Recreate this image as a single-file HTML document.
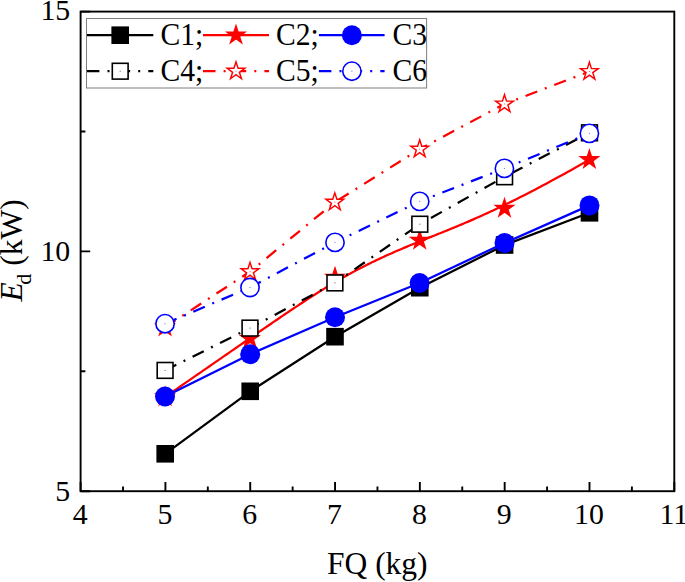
<!DOCTYPE html>
<html><head><meta charset="utf-8"><title>chart</title>
<style>html,body{margin:0;padding:0;background:#fff}body{width:685px;height:582px;overflow:hidden;font-family:"Liberation Serif",serif}</style>
</head><body>
<svg width="685" height="582" viewBox="0 0 685 582" style="display:block">
<rect width="685" height="582" fill="#fff"/>
<path d="M165.20 453.80 L250.20 391.30 L335.00 336.70 L419.80 287.70 L504.60 245.00 L589.50 212.80" fill="none" stroke="#000000" stroke-width="2.25" stroke-linejoin="round"/>
<rect x="156.40" y="445.00" width="17.6" height="17.6" fill="#000000"/>
<rect x="241.40" y="382.50" width="17.6" height="17.6" fill="#000000"/>
<rect x="326.20" y="327.90" width="17.6" height="17.6" fill="#000000"/>
<rect x="411.00" y="278.90" width="17.6" height="17.6" fill="#000000"/>
<rect x="495.80" y="236.20" width="17.6" height="17.6" fill="#000000"/>
<rect x="580.70" y="204.00" width="17.6" height="17.6" fill="#000000"/>
<path d="M165.10 396.90 L168.28 394.71 L171.41 392.55 L174.51 390.42 L177.57 388.31 L180.59 386.23 L183.58 384.17 L186.52 382.14 L189.43 380.13 L192.30 378.15 L195.14 376.19 L197.94 374.25 L200.70 372.34 L203.43 370.45 L206.12 368.59 L208.78 366.74 L211.41 364.93 L214.00 363.13 L216.56 361.36 L219.09 359.61 L221.58 357.88 L224.05 356.17 L226.48 354.49 L228.88 352.82 L231.25 351.18 L233.59 349.56 L235.90 347.96 L238.18 346.38 L240.44 344.82 L242.66 343.28 L244.86 341.76 L247.03 340.26 L249.17 338.77 L251.28 337.31 L253.37 335.87 L255.44 334.44 L257.47 333.04 L259.49 331.65 L261.48 330.28 L263.44 328.93 L265.38 327.60 L267.30 326.28 L269.19 324.98 L271.06 323.70 L272.91 322.43 L274.74 321.19 L276.55 319.95 L278.33 318.74 L280.10 317.54 L281.84 316.35 L283.57 315.18 L285.27 314.03 L286.96 312.89 L288.63 311.76 L290.28 310.65 L291.92 309.56 L293.53 308.48 L295.13 307.41 L296.72 306.36 L298.29 305.32 L299.84 304.29 L301.38 303.27 L302.90 302.27 L304.41 301.28 L305.91 300.31 L307.39 299.34 L308.86 298.39 L310.31 297.45 L311.76 296.52 L313.19 295.60 L314.61 294.70 L316.03 293.80 L317.43 292.91 L318.82 292.04 L320.20 291.17 L321.57 290.32 L322.93 289.47 L324.29 288.64 L325.64 287.81 L326.98 286.99 L328.31 286.18 L329.64 285.38 L330.96 284.59 L332.27 283.80 L333.58 283.03 L334.88 282.26 L336.17 281.50 L337.46 280.75 L338.75 280.01 L340.03 279.27 L341.30 278.54 L342.57 277.82 L343.83 277.10 L345.09 276.40 L346.35 275.70 L347.60 275.00 L348.84 274.32 L350.08 273.64 L351.32 272.96 L352.56 272.29 L353.79 271.63 L355.02 270.98 L356.24 270.33 L357.46 269.68 L358.68 269.04 L359.90 268.41 L361.11 267.78 L362.32 267.16 L363.53 266.54 L364.74 265.93 L365.95 265.32 L367.15 264.72 L368.35 264.12 L369.55 263.53 L370.76 262.94 L371.95 262.35 L373.15 261.77 L374.35 261.19 L375.55 260.62 L376.75 260.05 L377.94 259.48 L379.14 258.92 L380.34 258.36 L381.53 257.80 L382.73 257.25 L383.93 256.69 L385.13 256.15 L386.33 255.60 L387.53 255.06 L388.74 254.52 L389.94 253.98 L391.15 253.44 L392.36 252.91 L393.57 252.37 L394.78 251.84 L396.00 251.31 L397.22 250.78 L398.44 250.26 L399.66 249.73 L400.89 249.21 L402.12 248.68 L403.35 248.16 L404.59 247.64 L405.83 247.11 L407.08 246.59 L408.33 246.07 L409.58 245.55 L410.84 245.03 L412.10 244.51 L413.37 243.99 L414.64 243.46 L415.92 242.94 L417.20 242.42 L418.49 241.90 L419.78 241.37 L421.08 240.84 L422.39 240.32 L423.70 239.79 L425.02 239.26 L426.34 238.73 L427.67 238.19 L429.01 237.66 L430.35 237.12 L431.71 236.58 L433.07 236.04 L434.44 235.49 L435.82 234.94 L437.21 234.39 L438.61 233.83 L440.02 233.26 L441.44 232.69 L442.87 232.12 L444.31 231.54 L445.76 230.95 L447.23 230.35 L448.71 229.75 L450.20 229.14 L451.71 228.53 L453.23 227.90 L454.77 227.27 L456.32 226.63 L457.88 225.97 L459.46 225.31 L461.06 224.64 L462.68 223.96 L464.31 223.27 L465.96 222.56 L467.62 221.85 L469.31 221.12 L471.01 220.38 L472.74 219.63 L474.48 218.86 L476.24 218.08 L478.03 217.29 L479.83 216.49 L481.65 215.66 L483.50 214.83 L485.37 213.98 L487.26 213.11 L489.18 212.23 L491.11 211.33 L493.08 210.42 L495.06 209.48 L497.07 208.53 L499.11 207.57 L501.17 206.58 L503.26 205.58 L505.37 204.56 L507.51 203.51 L509.68 202.45 L511.87 201.37 L514.09 200.27 L516.35 199.15 L518.63 198.00 L520.93 196.84 L523.27 195.65 L525.64 194.45 L528.04 193.21 L530.47 191.96 L532.93 190.68 L535.43 189.38 L537.95 188.06 L540.51 186.71 L543.10 185.34 L545.73 183.94 L548.39 182.51 L551.08 181.06 L553.81 179.59 L556.57 178.08 L559.37 176.55 L562.20 175.00 L565.07 173.41 L567.98 171.80 L570.93 170.16 L573.91 168.49 L576.93 166.79 L579.99 165.06 L583.09 163.31 L586.22 161.52 L589.40 159.70" fill="none" stroke="#ff0000" stroke-width="2.25" stroke-linejoin="round"/>
<path d="M165.10 387.60 L167.19 394.03 L173.94 394.03 L168.48 398.00 L170.57 404.42 L165.10 400.45 L159.63 404.42 L161.72 398.00 L156.26 394.03 L163.01 394.03 Z" fill="#ff0000" stroke="#ff0000" stroke-width="1.45" stroke-miterlimit="10"/>
<path d="M250.00 329.20 L252.09 335.63 L258.84 335.63 L253.38 339.60 L255.47 346.02 L250.00 342.05 L244.53 346.02 L246.62 339.60 L241.16 335.63 L247.91 335.63 Z" fill="#ff0000" stroke="#ff0000" stroke-width="1.45" stroke-miterlimit="10"/>
<path d="M335.00 268.00 L337.09 274.43 L343.84 274.43 L338.38 278.40 L340.47 284.82 L335.00 280.85 L329.53 284.82 L331.62 278.40 L326.16 274.43 L332.91 274.43 Z" fill="#ff0000" stroke="#ff0000" stroke-width="1.45" stroke-miterlimit="10"/>
<path d="M419.70 231.10 L421.79 237.53 L428.54 237.53 L423.08 241.50 L425.17 247.92 L419.70 243.95 L414.23 247.92 L416.32 241.50 L410.86 237.53 L417.61 237.53 Z" fill="#ff0000" stroke="#ff0000" stroke-width="1.45" stroke-miterlimit="10"/>
<path d="M504.50 199.10 L506.59 205.53 L513.34 205.53 L507.88 209.50 L509.97 215.92 L504.50 211.95 L499.03 215.92 L501.12 209.50 L495.66 205.53 L502.41 205.53 Z" fill="#ff0000" stroke="#ff0000" stroke-width="1.45" stroke-miterlimit="10"/>
<path d="M589.40 150.40 L591.49 156.83 L598.24 156.83 L592.78 160.80 L594.87 167.22 L589.40 163.25 L583.93 167.22 L586.02 160.80 L580.56 156.83 L587.31 156.83 Z" fill="#ff0000" stroke="#ff0000" stroke-width="1.45" stroke-miterlimit="10"/>
<path d="M165.00 396.50 L250.20 354.20 L335.00 317.30 L419.60 283.00 L504.50 243.00 L589.50 205.40" fill="none" stroke="#0000ff" stroke-width="2.25" stroke-linejoin="round"/>
<circle cx="165.00" cy="396.50" r="10.0" fill="#0000ff"/>
<circle cx="250.20" cy="354.20" r="10.0" fill="#0000ff"/>
<circle cx="335.00" cy="317.30" r="10.0" fill="#0000ff"/>
<circle cx="419.60" cy="283.00" r="10.0" fill="#0000ff"/>
<circle cx="504.50" cy="243.00" r="10.0" fill="#0000ff"/>
<circle cx="589.50" cy="205.40" r="10.0" fill="#0000ff"/>
<path d="M165.10 370.40 L250.00 328.10 L334.90 282.90 L419.80 224.20 L504.60 176.75 L589.50 132.80" fill="none" stroke="#000000" stroke-width="2.25" stroke-linejoin="round" stroke-dasharray="12.5 8.1 2 8.1"/>
<rect x="157.20" y="362.50" width="15.8" height="15.8" fill="#fff" stroke="#000000" stroke-width="1.6"/><rect x="164.60" y="369.90" width="1" height="1" fill="#555"/>
<rect x="242.10" y="320.20" width="15.8" height="15.8" fill="#fff" stroke="#000000" stroke-width="1.6"/><rect x="249.50" y="327.60" width="1" height="1" fill="#555"/>
<rect x="327.00" y="275.00" width="15.8" height="15.8" fill="#fff" stroke="#000000" stroke-width="1.6"/><rect x="334.40" y="282.40" width="1" height="1" fill="#555"/>
<rect x="411.90" y="216.30" width="15.8" height="15.8" fill="#fff" stroke="#000000" stroke-width="1.6"/><rect x="419.30" y="223.70" width="1" height="1" fill="#555"/>
<rect x="496.70" y="168.85" width="15.8" height="15.8" fill="#fff" stroke="#000000" stroke-width="1.6"/><rect x="504.10" y="176.25" width="1" height="1" fill="#555"/>
<rect x="581.60" y="124.90" width="15.8" height="15.8" fill="#fff" stroke="#000000" stroke-width="1.6"/><rect x="589.00" y="132.30" width="1" height="1" fill="#555"/>
<path d="M165.05 327.10 L250.00 271.70 L334.80 202.20 L419.70 149.10 L504.50 104.00 L589.40 71.50" fill="none" stroke="#ff0000" stroke-width="2.25" stroke-linejoin="round" stroke-dasharray="12.5 8.1 2 8.1"/>
<path d="M165.05 317.80 L167.14 324.23 L173.89 324.23 L168.43 328.20 L170.52 334.62 L165.05 330.65 L159.58 334.62 L161.67 328.20 L156.21 324.23 L162.96 324.23 Z" fill="#fff" stroke="#ff0000" stroke-width="1.45" stroke-miterlimit="10"/><rect x="164.55" y="326.60" width="1" height="1" fill="#f55"/>
<path d="M250.00 262.40 L252.09 268.83 L258.84 268.83 L253.38 272.80 L255.47 279.22 L250.00 275.25 L244.53 279.22 L246.62 272.80 L241.16 268.83 L247.91 268.83 Z" fill="#fff" stroke="#ff0000" stroke-width="1.45" stroke-miterlimit="10"/><rect x="249.50" y="271.20" width="1" height="1" fill="#f55"/>
<path d="M334.80 192.90 L336.89 199.33 L343.64 199.33 L338.18 203.30 L340.27 209.72 L334.80 205.75 L329.33 209.72 L331.42 203.30 L325.96 199.33 L332.71 199.33 Z" fill="#fff" stroke="#ff0000" stroke-width="1.45" stroke-miterlimit="10"/><rect x="334.30" y="201.70" width="1" height="1" fill="#f55"/>
<path d="M419.70 139.80 L421.79 146.23 L428.54 146.23 L423.08 150.20 L425.17 156.62 L419.70 152.65 L414.23 156.62 L416.32 150.20 L410.86 146.23 L417.61 146.23 Z" fill="#fff" stroke="#ff0000" stroke-width="1.45" stroke-miterlimit="10"/><rect x="419.20" y="148.60" width="1" height="1" fill="#f55"/>
<path d="M504.50 94.70 L506.59 101.13 L513.34 101.13 L507.88 105.10 L509.97 111.52 L504.50 107.55 L499.03 111.52 L501.12 105.10 L495.66 101.13 L502.41 101.13 Z" fill="#fff" stroke="#ff0000" stroke-width="1.45" stroke-miterlimit="10"/><rect x="504.00" y="103.50" width="1" height="1" fill="#f55"/>
<path d="M589.40 62.20 L591.49 68.63 L598.24 68.63 L592.78 72.60 L594.87 79.02 L589.40 75.05 L583.93 79.02 L586.02 72.60 L580.56 68.63 L587.31 68.63 Z" fill="#fff" stroke="#ff0000" stroke-width="1.45" stroke-miterlimit="10"/><rect x="588.90" y="71.00" width="1" height="1" fill="#f55"/>
<path d="M165.05 323.70 L250.00 287.50 L335.00 242.40 L419.70 201.40 L504.40 168.40 L589.40 133.40" fill="none" stroke="#0000ff" stroke-width="2.25" stroke-linejoin="round" stroke-dasharray="12.5 8.1 2 8.1"/>
<circle cx="165.05" cy="323.70" r="9.15" fill="#fff" stroke="#0000ff" stroke-width="1.6"/><rect x="164.55" y="323.20" width="1" height="1" fill="#66f"/>
<circle cx="250.00" cy="287.50" r="9.15" fill="#fff" stroke="#0000ff" stroke-width="1.6"/><rect x="249.50" y="287.00" width="1" height="1" fill="#66f"/>
<circle cx="335.00" cy="242.40" r="9.15" fill="#fff" stroke="#0000ff" stroke-width="1.6"/><rect x="334.50" y="241.90" width="1" height="1" fill="#66f"/>
<circle cx="419.70" cy="201.40" r="9.15" fill="#fff" stroke="#0000ff" stroke-width="1.6"/><rect x="419.20" y="200.90" width="1" height="1" fill="#66f"/>
<circle cx="504.40" cy="168.40" r="9.15" fill="#fff" stroke="#0000ff" stroke-width="1.6"/><rect x="503.90" y="167.90" width="1" height="1" fill="#66f"/>
<circle cx="589.40" cy="133.40" r="9.15" fill="#fff" stroke="#0000ff" stroke-width="1.6"/><rect x="588.90" y="132.90" width="1" height="1" fill="#66f"/>
<rect x="80.6" y="11.6" width="593.70" height="479.60" fill="none" stroke="#000" stroke-width="1.9"/>
<path d="M80.60 491.2 V482.00 M123.01 491.2 V486.40 M165.41 491.2 V482.00 M207.82 491.2 V486.40 M250.23 491.2 V482.00 M292.64 491.2 V486.40 M335.04 491.2 V482.00 M377.45 491.2 V486.40 M419.86 491.2 V482.00 M462.26 491.2 V486.40 M504.67 491.2 V482.00 M547.08 491.2 V486.40 M589.49 491.2 V482.00 M631.89 491.2 V486.40 M674.30 491.2 V482.00 M80.6 491.20 H90.20 M80.6 251.40 H90.20 M80.6 11.60 H90.20 M80.6 371.30 H85.40 M80.6 131.50 H85.40" stroke="#000" stroke-width="1.9" fill="none"/>
<g font-family="Liberation Serif, serif" font-size="29.8" fill="#000">
<text x="80.10" y="524.3" text-anchor="middle">4</text>
<text x="164.91" y="524.3" text-anchor="middle">5</text>
<text x="249.73" y="524.3" text-anchor="middle">6</text>
<text x="334.54" y="524.3" text-anchor="middle">7</text>
<text x="419.36" y="524.3" text-anchor="middle">8</text>
<text x="504.17" y="524.3" text-anchor="middle">9</text>
<text x="588.99" y="524.3" text-anchor="middle">10</text>
<text x="673.80" y="524.3" text-anchor="middle">11</text>
<text x="70.2" y="501" text-anchor="end">5</text>
<text x="70.2" y="261" text-anchor="end">10</text>
<text x="70.2" y="19.6" text-anchor="end">15</text>
</g>
<text x="377.3" y="573.8" text-anchor="middle" font-family="Liberation Serif, serif" font-size="31.5" fill="#000">FQ (kg)</text>
<text transform="translate(21.8 251.4) rotate(-90)" text-anchor="middle" font-family="Liberation Serif, serif" font-size="31.5" fill="#000"><tspan font-style="italic" dx="1">E</tspan><tspan font-size="22" dx="-2.5" dy="8.7">d</tspan><tspan dy="-8.7"> (kW)</tspan></text>
<rect x="86.5" y="18.5" width="340.1" height="69.5" fill="#fff" stroke="#7f7f7f" stroke-width="1"/>
<path d="M86.9 35.2 H153.3" stroke="#000000" stroke-width="2.25" fill="none"/>
<rect x="111.40" y="26.40" width="17.6" height="17.6" fill="#000000"/>
<text transform="translate(160.40 44.65) scale(1 1.04)" font-family="Liberation Serif, serif" font-size="29.6" fill="#000">C1;</text>
<path d="M203.0 35.2 H269.0" stroke="#ff0000" stroke-width="2.25" fill="none"/>
<path d="M236.00 25.90 L238.09 32.33 L244.84 32.33 L239.38 36.30 L241.47 42.72 L236.00 38.75 L230.53 42.72 L232.62 36.30 L227.16 32.33 L233.91 32.33 Z" fill="#ff0000" stroke="#ff0000" stroke-width="1.45" stroke-miterlimit="10"/>
<text transform="translate(275.90 44.65) scale(1 1.04)" font-family="Liberation Serif, serif" font-size="29.6" fill="#000">C2;</text>
<path d="M318.9 35.2 H384.6" stroke="#0000ff" stroke-width="2.25" fill="none"/>
<circle cx="351.90" cy="35.20" r="10.0" fill="#0000ff"/>
<text transform="translate(392.40 44.65) scale(1 1.04)" font-family="Liberation Serif, serif" font-size="29.6" fill="#000">C3</text>
<path d="M86.9 71.2 H153.3" stroke="#000000" stroke-width="2.25" fill="none" stroke-dasharray="12.5 8.1 2 8.1"/>
<rect x="112.30" y="63.30" width="15.8" height="15.8" fill="#fff" stroke="#000000" stroke-width="1.6"/><rect x="119.70" y="70.70" width="1" height="1" fill="#555"/>
<text transform="translate(160.40 80.65) scale(1 1.04)" font-family="Liberation Serif, serif" font-size="29.6" fill="#000">C4;</text>
<path d="M203.0 71.2 H269.0" stroke="#ff0000" stroke-width="2.25" fill="none" stroke-dasharray="12.5 8.1 2 8.1"/>
<path d="M236.00 61.90 L238.09 68.33 L244.84 68.33 L239.38 72.30 L241.47 78.72 L236.00 74.75 L230.53 78.72 L232.62 72.30 L227.16 68.33 L233.91 68.33 Z" fill="#fff" stroke="#ff0000" stroke-width="1.45" stroke-miterlimit="10"/><rect x="235.50" y="70.70" width="1" height="1" fill="#f55"/>
<text transform="translate(275.90 80.65) scale(1 1.04)" font-family="Liberation Serif, serif" font-size="29.6" fill="#000">C5;</text>
<path d="M318.9 71.2 H384.6" stroke="#0000ff" stroke-width="2.25" fill="none" stroke-dasharray="12.5 8.1 2 8.1"/>
<circle cx="351.90" cy="71.20" r="9.15" fill="#fff" stroke="#0000ff" stroke-width="1.6"/><rect x="351.40" y="70.70" width="1" height="1" fill="#66f"/>
<text transform="translate(392.40 80.65) scale(1 1.04)" font-family="Liberation Serif, serif" font-size="29.6" fill="#000">C6</text>
</svg>
</body></html>
